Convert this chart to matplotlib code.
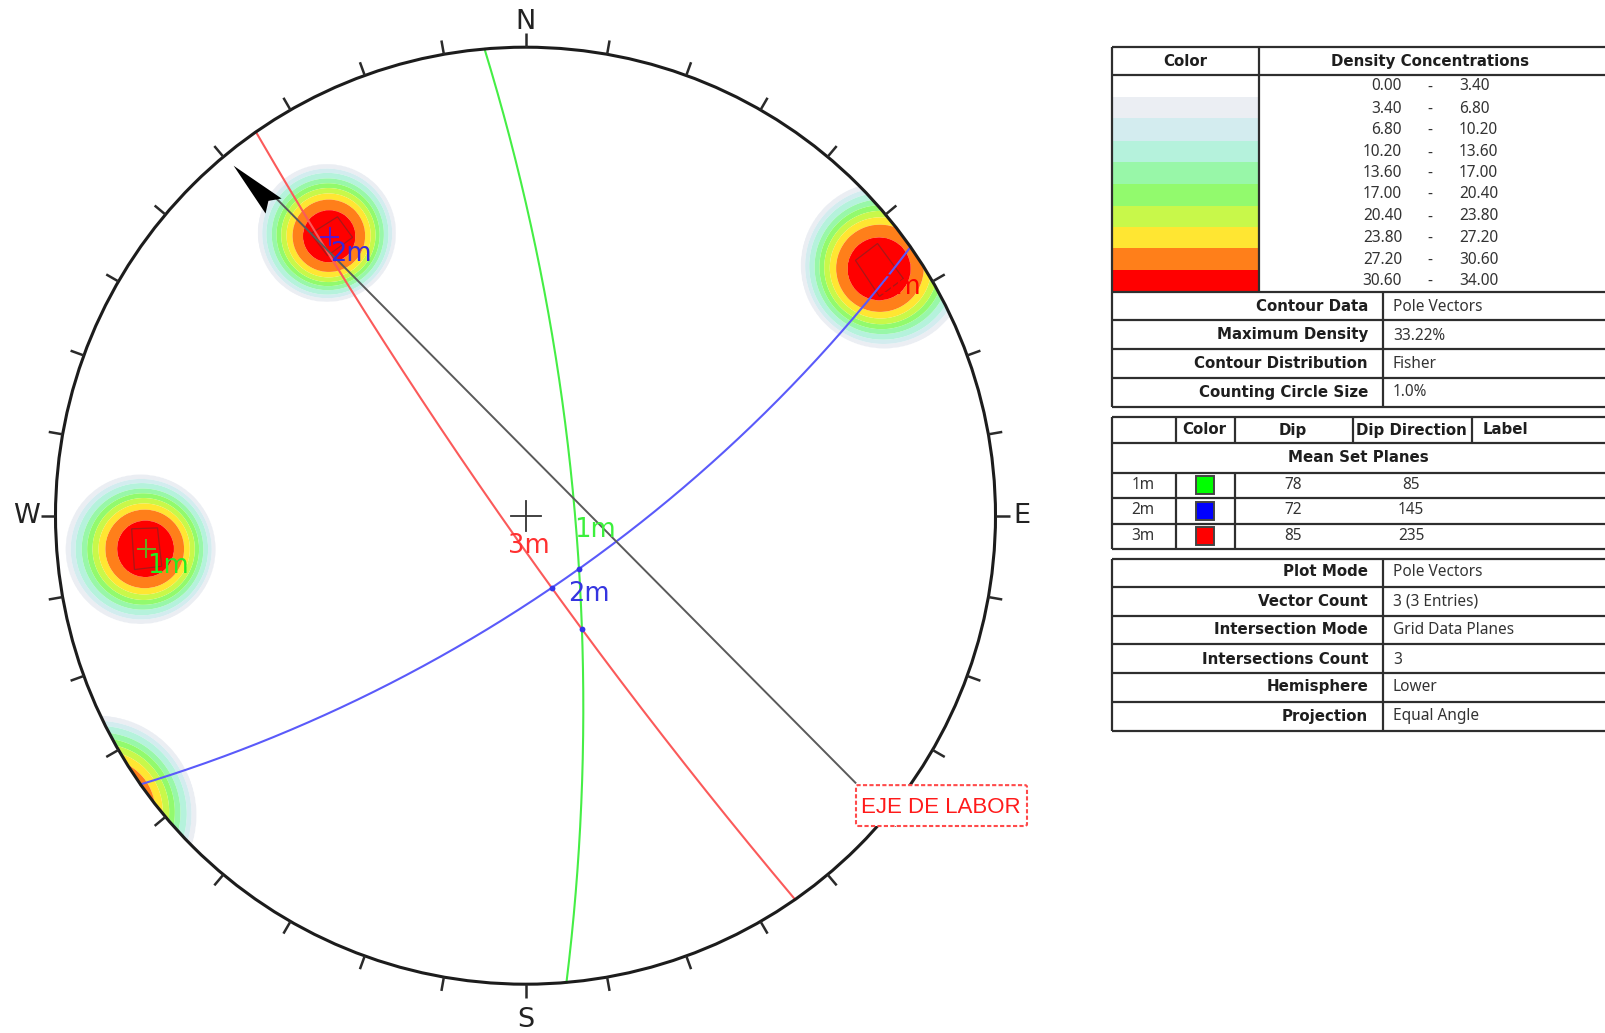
import numpy as np
import matplotlib
matplotlib.use("Agg")
import matplotlib.pyplot as plt
from matplotlib.patches import Circle, FancyBboxPatch, Polygon, Rectangle

# ---------- data ----------
SET_NAMES = ["1m", "2m", "3m"]
SET_DIPS = [78, 72, 85]
SET_DIP_DIRS = [85, 145, 235]
SET_COLORS = ["#00ff00", "#0000ff", "#ff0000"]

DENSITY_LOW = ["0.00", "3.40", "6.80", "10.20", "13.60", "17.00", "20.40", "23.80", "27.20", "30.60"]
DENSITY_HIGH = ["3.40", "6.80", "10.20", "13.60", "17.00", "20.40", "23.80", "27.20", "30.60", "34.00"]
DENSITY_COLORS = ["#ffffff", "#ebeef3", "#d3ecef", "#b5f2dc", "#98f7a8",
                  "#92fa6d", "#c8f84a", "#ffe632", "#ff7f1a", "#ff0000"]
CONTOUR_LEVELS = [3.4, 6.8, 10.2, 13.6, 17.0, 20.4, 23.8, 27.2, 30.6, 34.0]
# angular distance from a pole at which each level is reached (degrees)
PROFILE_DEG = [0.0, 4.2, 5.8, 6.7, 7.5, 8.2, 8.9, 9.7, 10.3, 10.9, 13.0]
PROFILE_DENSITY = [33.22, 30.6, 27.2, 23.8, 20.4, 17.0, 13.6, 10.2, 6.8, 3.4, 0.0]

CONTOUR_INFO = [("Contour Data", "Pole Vectors"), ("Maximum Density", "33.22%"),
                ("Contour Distribution", "Fisher"), ("Counting Circle Size", "1.0%")]
PLOT_INFO = [("Plot Mode", "Pole Vectors"), ("Vector Count", "3 (3 Entries)"),
             ("Intersection Mode", "Grid Data Planes"), ("Intersections Count", "3"),
             ("Hemisphere", "Lower"), ("Projection", "Equal Angle")]

# variability boxes round the mean poles (net units)
BOX_1M = [(-.838, -.028), (-.783, -.026), (-.774, -.108), (-.832, -.115)]
BOX_2M = [(-.457, .602), (-.400, .638), (-.368, .594), (-.421, .555)]
BOX_3M = [(.702, .545), (.749, .581), (.804, .506), (.753, .468)]

TICK_AZIMUTHS = list(range(0, 360, 10))
AXIS_START = (0.702, -0.570)
AXIS_END = (-0.543, 0.690)
AXIS_HEAD = [(-0.621, 0.747), (-0.519, 0.677), (-0.547, 0.672), (-0.553, 0.645)]

# ---------- layout ----------
W, H = 1605, 1033
CX, CY, RX, RY = 525.5, 515.7, 470.0, 468.5
R = RX
TXT = "#1e1e1e"
LINE = "#2e2e2e"
TF = "Noto Sans"

fig = plt.figure(figsize=(W / 100, H / 100), dpi=100, facecolor="white")
ax = fig.add_axes([0, 0, 1, 1])
ax.set_xlim(-CX / RX, (W - CX) / RX)
ax.set_ylim((CY - H) / RY, CY / RY)
ax.axis("off")
tb = fig.add_axes([0, 0, 1, 1], facecolor="none")
tb.set_xlim(0, W)
tb.set_ylim(H, 0)
tb.axis("off")


def pole_vector(dip, dd):
    tr, pl = np.radians(dd + 180), np.radians(90 - dip)
    return np.array([np.cos(pl) * np.sin(tr), np.cos(pl) * np.cos(tr), np.sin(pl)])


def project(v):
    v = np.asarray(v, float)
    v = v * np.where(v[2] < 0, -1, 1)
    f = 1 / (1 + v[2])
    return v[0] * f, v[1] * f


poles = [pole_vector(d, a) for d, a in zip(SET_DIPS, SET_DIP_DIRS)]

# density field
gx, gy = np.meshgrid(np.linspace(-1.03, 1.03, 900), np.linspace(-1.03, 1.03, 900))
rr = np.hypot(gx, gy) + 1e-9
phi = 2 * np.arctan(rr)
vx, vy, vz = np.sin(phi) * gx / rr, np.sin(phi) * gy / rr, np.cos(phi)
dens = np.zeros_like(gx)
for p in poles:
    ang = np.degrees(np.arccos(np.clip(np.abs(vx * p[0] + vy * p[1] + vz * p[2]), 0, 1)))
    dens = np.maximum(dens, np.interp(ang, PROFILE_DEG, PROFILE_DENSITY))
rim_clip = Circle((0, 0), 1, transform=ax.transData)
cf = ax.contourf(gx, gy, dens, levels=CONTOUR_LEVELS, colors=DENSITY_COLORS[1:], zorder=1, antialiased=True)
cf.set_clip_path(rim_clip)

# variability boxes
for box in (BOX_1M, BOX_2M, BOX_3M):
    ax.add_patch(Polygon(box, closed=True, fill=False, ec="#a81818", lw=0.9, zorder=2))

# great circles
PLANE_LINE = ["#45ee45", "#5a5afa", "#fb5a5a"]
for dip, dd, col in zip(SET_DIPS, SET_DIP_DIRS, PLANE_LINE):
    d, a = np.radians(dip), np.radians(dd)
    strike = np.array([np.sin(a - np.pi / 2), np.cos(a - np.pi / 2), 0])
    down = np.array([np.cos(d) * np.sin(a), np.cos(d) * np.cos(a), np.sin(d)])
    t = np.linspace(0, np.pi, 400)
    pts = np.outer(np.cos(t), strike) + np.outer(np.sin(t), down)
    f = 1 / (1 + pts[:, 2])
    ax.plot(pts[:, 0] * f, pts[:, 1] * f, color=col, lw=1.5, zorder=3)

# plane intersections
for i, j in ((0, 1), (0, 2), (1, 2)):
    c = np.cross(poles[i], poles[j])
    c = c / np.linalg.norm(c)
    x, y = project(c)
    ax.plot([x], [y], "o", ms=4.2, color="#3535e8", mec="none", zorder=4)

# axis arrow
ax.plot([AXIS_START[0], AXIS_END[0]], [AXIS_START[1], AXIS_END[1]], color="#5a5a5a", lw=1.4, zorder=4)
ax.add_patch(Polygon(AXIS_HEAD, closed=True, fc="black", ec="none", zorder=5))

# rim and ticks
ax.add_patch(Circle((0, 0), 1, fill=False, ec="#1c1c1c", lw=2.2, zorder=6))
for az in TICK_AZIMUTHS:
    s, c = np.sin(np.radians(az)), np.cos(np.radians(az))
    ax.plot([s, s * 1.03], [c, c * 1.03], color="#2a2a2a", lw=1.8, zorder=6, solid_capstyle="butt")
ax.plot([-15 / R, 15 / R], [0, 0], color="#333333", lw=1.3, zorder=6)
ax.plot([0, 0], [-15 / R, 15 / R], color="#333333", lw=1.3, zorder=6)

# compass letters
for txt, x, y in (("N", 0, 1.054), ("S", 0, -1.076), ("W", -1.062, 0), ("E", 1.056, 0)):
    ax.text(x, y, txt, ha="center", va="center", fontsize=19.5, color="#222222", zorder=7)

# pole markers and labels
LABEL_COL = ["#22ee22", "#3528dc", "#ff0000"]
PLUS_COL = ["#63ad22", "#5a18cc", "#ff0000"]
for name, p, col, pc in zip(SET_NAMES, poles, LABEL_COL, PLUS_COL):
    x, y = project(p)
    ax.plot([x - 8.5 / R, x + 8.5 / R], [y, y], color=pc, lw=1.4, zorder=7)
    ax.plot([x, x], [y - 8.5 / R, y + 8.5 / R], color=pc, lw=1.4, zorder=7)
    ax.text(x + 0.5 / R, y - 17.5 / R, name, ha="left", va="center", fontsize=18.5, color=col, zorder=7)

# plane labels
ax.text((595 - CX) / R, (CY - 530) / R, "1m", ha="center", va="center", fontsize=18.5, color="#3cf03c", zorder=7)
ax.text((589 - CX) / R, (CY - 594) / R, "2m", ha="center", va="center", fontsize=18.5, color="#3535e0", zorder=7)
ax.text((529 - CX) / R, (CY - 546) / R, "3m", ha="center", va="center", fontsize=18.5, color="#ff3030", zorder=7)

# axis label
ax.add_patch(FancyBboxPatch(((856 - CX) / R, (CY - 827) / R), 171 / R, 41 / R,
                            boxstyle=f"round,pad=0,rounding_size={2 / R}", fc="white",
                            ec="#ff4a4a", lw=1.5, ls=(0, (2.0, 1.1)), zorder=8))
ax.text((941 - CX) / R, (CY - 808.5) / R, "EJE DE LABOR", ha="center", va="center", fontsize=16,
        family="Liberation Sans", color="#ff1a1a", zorder=9)

# ---------- tables ----------
XL, XR = 1112, 1606


def hline(y, x0=XL, x1=XR, lw=1.6):
    tb.plot([x0, x1], [y, y], color=LINE, lw=lw, solid_capstyle="butt", zorder=3)


def vline(x, y0, y1, lw=1.6):
    tb.plot([x, x], [y0, y1], color=LINE, lw=lw, solid_capstyle="butt", zorder=3)


def bold(x, y, s, ha="center"):
    tb.text(x, y + 1, s, ha=ha, va="center", fontsize=10.85, fontweight="bold", family="DejaVu Sans", color=TXT)


def reg(x, y, s, ha="left"):
    tb.text(x, y + 1.5, s, ha=ha, va="center", fontsize=11.1, family=TF, color="#333333")


# density table
SWATCH_EDGES = [77, 96.7, 118.3, 140.7, 162, 184, 205.7, 226.7, 248.3, 270, 291]
ROW_Y = [85, 107.7, 128.5, 151, 171.7, 192.5, 215, 236, 258.5, 279.5]
for i, col in enumerate(DENSITY_COLORS):
    tb.add_patch(Rectangle((XL, SWATCH_EDGES[i]), 1259 - XL, SWATCH_EDGES[i + 1] - SWATCH_EDGES[i],
                           fc=col, ec="none", zorder=1))
    reg(1402, ROW_Y[i], DENSITY_LOW[i], ha="right")
    reg(1430, ROW_Y[i], "-", ha="center")
    reg(1459, ROW_Y[i], DENSITY_HIGH[i], ha="left")
bold(1185, 60.5, "Color")
bold(1430, 60.5, "Density Concentrations")
for y in (47, 75, 292, 320, 349, 378, 407):
    hline(y)
vline(XL, 47, 407)
vline(1259, 47, 292)
vline(1383, 292, 407)
for i, (k, v) in enumerate(CONTOUR_INFO):
    yc = [305.5, 334, 362.5, 391][i]
    bold(1368, yc, k, ha="right")
    reg(1393, yc, v)

# mean set table
for y in (417, 443, 473, 498, 524, 549):
    hline(y)
vline(XL, 417, 549)
for x in (1176, 1235):
    vline(x, 417, 443)
    vline(x, 473, 549)
for x in (1353, 1472):
    vline(x, 417, 443)
bold(1204, 429, "Color")
bold(1293, 429, "Dip")
bold(1411, 429, "Dip Direction")
bold(1505, 429, "Label")
bold(1358, 456.5, "Mean Set Planes")
for i, yc in enumerate((484.5, 510, 535)):
    reg(1143, yc - 1, SET_NAMES[i], ha="center")
    tb.add_patch(Rectangle((1196, yc - 8.5), 18, 18, fc=SET_COLORS[i], ec="#444444", lw=1.4, zorder=4))
    reg(1293, yc - 1, str(SET_DIPS[i]), ha="center")
    reg(1411, yc - 1, str(SET_DIP_DIRS[i]), ha="center")

# plot info table
YS3 = (559, 587, 616, 644, 673, 702, 731)
for y in YS3:
    hline(y)
vline(XL, 559, 731)
vline(1383, 559, 731)
for (k, v), yc in zip(PLOT_INFO, (571, 600.5, 628.5, 658, 685.5, 715)):
    bold(1368, yc, k, ha="right")
    reg(1393, yc, v)

fig.savefig("out.png", dpi=100, facecolor="white")
